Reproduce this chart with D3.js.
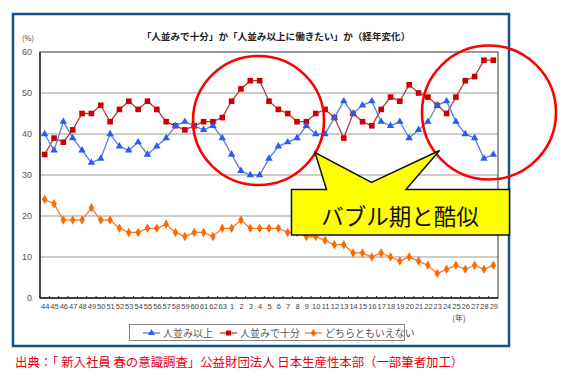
<!DOCTYPE html>
<html>
<head>
<meta charset="utf-8">
<script src="https://cdn.jsdelivr.net/npm/d3@7"></script>
<style>
  body { margin: 0; background: #fff; }
  svg { display: block; font-family: "Noto Sans CJK JP", "Noto Sans", sans-serif; }
</style>
</head>
<body>
<div id="chartArea"></div>
<script>
// year labels (Showa 44-63, Heisei 1-29)
const years = ["44","45","46","47","48","49","50","51","52","53","54","55","56","57","58","59","60","61","62","63",
  "1","2","3","4","5","6","7","8","9","10","11","12","13","14","15","16","17","18","19","20",
  "21","22","23","24","25","26","27","28","29"];

const aboveAverage = [40,36,43,39,36,33,34,40,37,36,38,35,37,39,42,43,42,41,42,39,
  35,31,30,30,34,37,38,39,42,40,40,44,48,45,47,48,43,42,43,39,
  41,43,47,48,43,40,39,34,35];

const averageEnough = [35,39,38,41,45,45,47,43,46,48,46,48,46,43,42,41,42,43,43,44,
  48,51,53,53,48,46,45,43,43,45,46,44,39,45,43,42,46,49,48,52,
  50,49,47,45,49,53,54,58,58];

const neither = [24,23,19,19,19,22,19,19,17,16,16,17,17,18,16,15,16,16,15,17,
  17,19,17,17,17,17,16,16,15,15,14,13,13,11,11,10,11,10,9,10,
  9,8,6,7,8,7,8,7,8];

const yTicks = [0,10,20,30,40,50,60];
const seriesNames = ["人並み以上", "人並みで十分", "どちらともいえない"];

const title = "「人並みで十分」か「人並み以上に働きたい」か（経年変化）";
const calloutText = "バブル期と酷似";
const sourceText = "出典：「 新入社員 春の意識調査」公益財団法人 日本生産性本部（一部筆者加工）";

function drawGraph() {
    let plot = { left: 40, right: 498, top: 52, bottom: 298 };

    let svg = d3.select("#chartArea").append("svg")
        .attr("width", 567)
        .attr("height", 373);

    // outer blue frame
    svg.append("rect")
        .attr("x", 13).attr("y", 14)
        .attr("width", 496).attr("height", 332)
        .attr("fill", "#fff")
        .attr("stroke", "#12518a")
        .attr("stroke-width", 2.5);

    let xScale = d3.scalePoint()
        .domain(years)
        .range([plot.left, plot.right])
        .padding(0.5);

    let yScale = d3.scaleLinear()
        .domain([0, 60])
        .range([plot.bottom, plot.top]);

    // gridlines
    svg.append("g")
        .selectAll("line")
        .data(yTicks.filter(d => d > 0 && d < 60))
        .enter().append("line")
            .attr("x1", plot.left).attr("x2", plot.right)
            .attr("y1", d => yScale(d)).attr("y2", d => yScale(d))
            .attr("stroke", "#9a9a9a")
            .attr("stroke-width", 1.2);

    // plot border
    svg.append("rect")
        .attr("x", plot.left).attr("y", plot.top)
        .attr("width", plot.right - plot.left)
        .attr("height", plot.bottom - plot.top)
        .attr("fill", "none")
        .attr("stroke", "#555")
        .attr("stroke-width", 1.2);

    svg.append("line")
        .attr("x1", plot.left).attr("x2", plot.right)
        .attr("y1", plot.bottom).attr("y2", plot.bottom)
        .attr("stroke", "#222").attr("stroke-width", 1.3);
    svg.append("line")
        .attr("x1", plot.left).attr("x2", plot.left)
        .attr("y1", plot.top).attr("y2", plot.bottom)
        .attr("stroke", "#222").attr("stroke-width", 1.3);

    // y axis labels
    let yAxis = svg.append("g")
        .attr("transform", "translate(" + plot.left + ",0)")
        .call(d3.axisLeft(yScale).tickValues(yTicks).tickSize(0).tickPadding(8));
    yAxis.select(".domain").remove();
    yAxis.selectAll("text")
        .attr("font-size", 9)
        .attr("fill", "#555")
        .attr("font-family", "Liberation Sans, Arial, sans-serif");

    svg.append("text")
        .attr("x", 28).attr("y", 41)
        .attr("text-anchor", "middle")
        .attr("font-size", 7.5)
        .attr("fill", "#444")
        .text("(%)");

    // x axis
    let step = xScale.step();
    let xAxis = svg.append("g")
        .attr("transform", "translate(0," + plot.bottom + ")")
        .call(d3.axisBottom(xScale).tickSize(0).tickPadding(6));
    xAxis.select(".domain").remove();
    xAxis.selectAll("text")
        .attr("font-size", 7.5)
        .attr("fill", "#444")
        .attr("font-family", "Liberation Sans Narrow, Arial Narrow, sans-serif");

    // small ticks between categories
    svg.append("g")
        .selectAll("line")
        .data(years)
        .enter().append("line")
            .attr("x1", d => xScale(d) - step / 2).attr("x2", d => xScale(d) - step / 2)
            .attr("y1", plot.bottom - 2).attr("y2", plot.bottom)
            .attr("stroke", "#222");

    svg.append("text")
        .attr("x", 459).attr("y", 321)
        .attr("text-anchor", "middle")
        .attr("font-size", 8)
        .attr("fill", "#444")
        .text("(年)");

    // title
    svg.append("text")
        .attr("x", 276).attr("y", 40)
        .attr("text-anchor", "middle")
        .attr("font-size", 9.6)
        .attr("font-weight", "bold")
        .attr("fill", "#222")
        .text(title);

    let line = d3.line()
        .x((d, i) => xScale(years[i]))
        .y(d => yScale(d));

    // orange: neither
    svg.append("path")
        .attr("d", line(neither))
        .attr("fill", "none")
        .attr("stroke", "#f07a2a")
        .attr("stroke-width", 1.3);
    svg.append("g").selectAll("path")
        .data(neither)
        .enter().append("path")
            .attr("d", d3.symbol(d3.symbolDiamond, 26)())
            .attr("transform", (d, i) => "translate(" + xScale(years[i]) + "," + yScale(d) + ")")
            .attr("fill", "#ff6a00");

    // red: average is enough
    svg.append("path")
        .attr("d", line(averageEnough))
        .attr("fill", "none")
        .attr("stroke", "#b83a3a")
        .attr("stroke-width", 1.3);
    svg.append("g").selectAll("rect")
        .data(averageEnough)
        .enter().append("rect")
            .attr("x", (d, i) => xScale(years[i]) - 2.8)
            .attr("y", d => yScale(d) - 2.8)
            .attr("width", 5.6).attr("height", 5.6)
            .attr("fill", "#cc0000");

    // blue: above average
    svg.append("path")
        .attr("d", line(aboveAverage))
        .attr("fill", "none")
        .attr("stroke", "#5a7fdc")
        .attr("stroke-width", 1.3);
    svg.append("g").selectAll("path")
        .data(aboveAverage)
        .enter().append("path")
            .attr("d", d3.symbol(d3.symbolTriangle, 24)())
            .attr("transform", (d, i) => "translate(" + xScale(years[i]) + "," + yScale(d) + ")")
            .attr("fill", "#2a5cf0");

    // legend
    svg.append("rect")
        .attr("x", 129.5).attr("y", 324.5)
        .attr("width", 275).attr("height", 16)
        .attr("fill", "#fff")
        .attr("stroke", "#888");

    let legendItems = [
        { x: 143, line: "#5a7fdc", fill: "#2a5cf0", shape: "tri" },
        { x: 220, line: "#b83a3a", fill: "#cc0000", shape: "sq" },
        { x: 305, line: "#f07a2a", fill: "#ff6a00", shape: "dia" }
    ];
    let ly = 333;
    legendItems.forEach((it, k) => {
        svg.append("line")
            .attr("x1", it.x).attr("x2", it.x + 17)
            .attr("y1", ly).attr("y2", ly)
            .attr("stroke", it.line).attr("stroke-width", 1.3);
        let cx = it.x + 8.5;
        if (it.shape === "sq") {
            svg.append("rect")
                .attr("x", cx - 2.5).attr("y", ly - 2.5)
                .attr("width", 5).attr("height", 5)
                .attr("fill", it.fill);
        } else {
            svg.append("path")
                .attr("d", d3.symbol(it.shape === "tri" ? d3.symbolTriangle : d3.symbolDiamond, 22)())
                .attr("transform", "translate(" + cx + "," + ly + ")")
                .attr("fill", it.fill);
        }
        svg.append("text")
            .attr("x", it.x + 20).attr("y", ly + 3.5)
            .attr("font-size", 10)
            .attr("fill", "#555")
            .text(seriesNames[k]);
    });

    // red circles
    svg.append("ellipse")
        .attr("cx", 258.5).attr("cy", 120.5)
        .attr("rx", 65.5).attr("ry", 64.5)
        .attr("fill", "none")
        .attr("stroke", "#ff0000")
        .attr("stroke-width", 2.6);
    svg.append("ellipse")
        .attr("cx", 489).attr("cy", 112.5)
        .attr("rx", 67).attr("ry", 67)
        .attr("fill", "none")
        .attr("stroke", "#ff0000")
        .attr("stroke-width", 2.6);

    // callout with two pointers
    let callout = [
        [291.5, 189.5], [326.5, 189.5], [315, 152.5], [371.5, 182.5],
        [439.5, 150.5], [406, 189.5], [509.5, 189.5], [509.5, 235], [291.5, 235]
    ];
    svg.append("path")
        .attr("d", d3.line()(callout) + "Z")
        .attr("fill", "#ffff00")
        .attr("stroke", "#111")
        .attr("stroke-width", 1.5)
        .attr("stroke-linejoin", "miter");

    svg.append("text")
        .attr("x", 400).attr("y", 225)
        .attr("text-anchor", "middle")
        .attr("font-size", 22.5)
        .attr("fill", "#111")
        .text(calloutText);

    // source
    svg.append("text")
        .attr("x", 15).attr("y", 367)
        .attr("font-size", 12.4)
        .attr("fill", "#e60012")
        .text(sourceText);
}

drawGraph();
</script>
</body>
</html>
